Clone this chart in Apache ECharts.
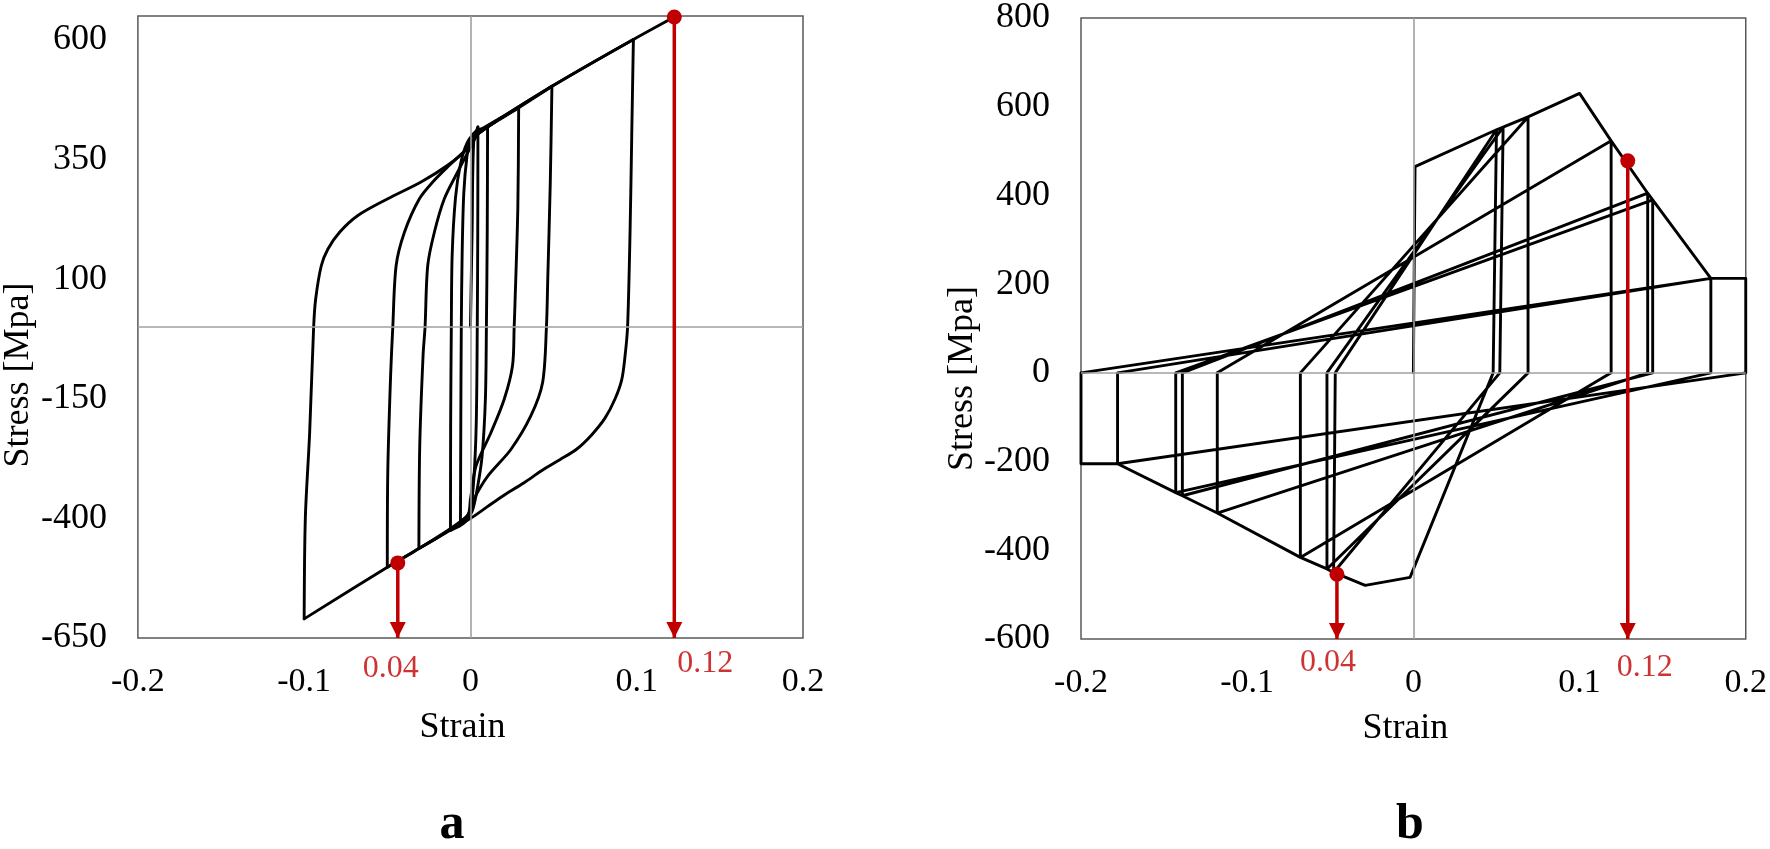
<!DOCTYPE html>
<html>
<head>
<meta charset="utf-8">
<script src="https://cdn.jsdelivr.net/npm/echarts@6/dist/echarts.min.js"></script>
<style>
html,body{margin:0;padding:0;background:#ffffff;}
#chart{width:1770px;height:849px;}
</style>
</head>
<body>
<div id="chart"></div>
<script>
// ---------------- Data: panel a (strain, stress [MPa]) ----------------
const aInitial = [[0,0],[0.001,200],[0.002,390],[0.0045,418]];
const aDown1 = [[0.0044,200],[0.0041,0],[0.0035,-200],[0.002,-320],[0,-380],[-0.003,-400],[-0.006,-408]];
const aUp1 = [[-0.0058,-200],[-0.0055,0],[-0.005,150],[-0.004,280],[-0.002,360],[0,392],[0.003,408],[0.0103,418]];
const aDown2 = [[0.0101,200],[0.0096,0],[0.009,-150],[0.007,-270],[0.004,-340],[0.001,-385],[-0.004,-410],[-0.012,-425]];
const aUp2 = [[-0.0119,-200],[-0.0115,0],[-0.011,150],[-0.009,270],[-0.006,340],[-0.002,385],[0.003,405],[0.029,458]];
const aDown3 = [[0.0285,250],[0.0268,50],[0.0263,0],[0.0253,-81],[0.0203,-151],[0.0123,-221],[0.0033,-291],[0,-360],[-0.002,-396],[-0.031,-463]];
const aUp3 = [[-0.0305,-250],[-0.0285,-60],[-0.0273,0],[-0.0257,128],[-0.0217,198],[-0.0157,268],[-0.0077,324],[0,375],[0.005,405],[0.029,458],[0.049,503]];
const aDown4 = [[0.048,300],[0.0465,100],[0.0457,0],[0.0434,-116],[0.0363,-186],[0.0243,-256],[0.0103,-312],[0.002,-360],[-0.002,-395],[-0.031,-463],[-0.050,-502]];
const aUp4 = [[-0.0497,-300],[-0.048,-100],[-0.0467,0],[-0.0447,128],[-0.0397,198],[-0.0307,268],[-0.0227,303],[-0.0127,338],[0,380],[0.005,405],[0.049,503],[0.098,601]];
const aDown5 = [[0.097,400],[0.096,200],[0.0945,0],[0.093,-60],[0.091,-110],[0.087,-150],[0.081,-190],[0.073,-225],[0.064,-255],[0.054,-277],[0.043,-300],[0.032,-326],[0.020,-352],[0.010,-376],[0,-400],[-0.031,-463],[-0.050,-502],[-0.1,-610]];
const aUp5 = [[-0.0993,-400],[-0.0967,-221],[-0.0943,0],[-0.0931,58],[-0.0897,128],[-0.0857,163],[-0.0787,198],[-0.0677,233],[-0.0497,268],[-0.0297,303],[-0.0137,338],[-0.0017,373],[0.005,405],[0.049,503],[0.098,601],[0.1226,648]];

// ---------------- Data: panel b (strain, stress [MPa]) ----------------
const bStart  = [[0,0],[0.001,465],[0.05,548],[0.048,0],[-0.002,-461],[-0.029,-479],[-0.048,-450],[-0.047,0]];
const bCycle2 = [[0.05,548],[0.054,554],[0.052,0],[-0.048,-450],[-0.052,-442],[-0.052,0]];
const bCycle3 = [[0.054,554],[0.069,577],[0.069,0],[-0.052,-442],[-0.068,-416],[-0.068,0]];
const bCycle4 = [[0.069,577],[0.1,630],[0.119,523],[0.119,0],[-0.068,-416],[-0.118,-316],[-0.118,0]];
const bCycle5 = [[0.119,523],[0.141,405],[0.141,0],[-0.118,-316],[-0.139,-277],[-0.139,0]];
const bCycle6 = [[0.141,405],[0.144,390],[0.144,0],[-0.139,-277],[-0.143,-270],[-0.143,0]];
const bCycle7 = [[0.144,390],[0.179,213],[0.179,0],[-0.143,-270],[-0.178,-205],[-0.178,0]];
const bCycle8 = [[0.179,213],[0.2,213],[0.2,0],[-0.178,-205],[-0.2,-205],[-0.2,0],[0.179,213]];

// ---------------- Annotations (red markers) ----------------
const aMarkers = [[-0.0437,-493],[0.1226,648]];
const bMarkers = [[-0.046,-454],[0.129,478]];
const markerLabels = ['0.04','0.12'];

// ---------------- Axis ticks ----------------
const strainTicks = [-0.2,-0.1,0,0.1,0.2];
const aStressTicks = [-650,-400,-150,100,350,600];
const bStressTicks = [-600,-400,-200,0,200,400,600,800];

const aBranches = [aInitial,aDown1,aUp1,aDown2,aUp2,aDown3,aUp3,aDown4,aUp4,aDown5,aUp5];
const bPath = [].concat(bStart,bCycle2,bCycle3,bCycle4,bCycle5,bCycle6,bCycle7,bCycle8);

const FONT = '"Liberation Serif", "Times New Roman", serif';
const RED = '#C00000';
const ARROW = 'path://M0,0L10,0L5,10Z';

function xAxisCfg(gi){
  return {
    gridIndex: gi, type: 'value', min: -0.2, max: 0.2, interval: 0.1,
    axisLine: {show: false}, axisTick: {show: false}, splitLine: {show: false},
    axisLabel: {show: true, color: '#000', fontSize: 34, fontFamily: FONT, margin: 27,
      showMinLabel: true, showMaxLabel: true,
      formatter: function(v){ const r = Math.round(v*10)/10; return strainTicks.indexOf(r) >= 0 ? String(r) : ''; }},
    name: 'Strain', nameLocation: 'middle', nameGap: 72,
    nameTextStyle: {color: '#000', fontSize: 36, fontFamily: FONT, padding: [0,16,0,0]}
  };
}
function yAxisCfg(gi, min, max, interval, ticks, pad){
  return {
    gridIndex: gi, type: 'value', min: min, max: max, interval: interval,
    axisLine: {show: false}, axisTick: {show: false}, splitLine: {show: false},
    axisLabel: {show: true, color: '#000', fontSize: 36, fontFamily: FONT, margin: 31,
      showMinLabel: true, showMaxLabel: true,
      formatter: function(v){ const r = Math.round(v); return ticks.indexOf(r) >= 0 ? String(r) : ''; }},
    name: 'Stress [Mpa]', nameLocation: 'middle', nameGap: 98, nameRotate: 90,
    nameTextStyle: {color: '#000', fontSize: 36, fontFamily: FONT, padding: [0,pad,0,0]}
  };
}
function zeroSeries(gi){
  return {
    type: 'line', xAxisIndex: gi, yAxisIndex: gi, data: [[0,0]], symbol: 'none',
    lineStyle: {opacity: 0}, silent: true, z: 1,
    markLine: {silent: true, symbol: ['none','none'], animation: false, label: {show: false},
      lineStyle: {color: '#a0a0a0', width: 1.6, type: 'solid'},
      data: [{xAxis: 0}, {yAxis: 0}]}
  };
}
function curveSeries(gi, data, smooth){
  return {
    type: 'line', xAxisIndex: gi, yAxisIndex: gi, data: data, symbol: 'none', smooth: smooth,
    lineStyle: {color: '#000', width: 2.9, join: 'round', cap: 'round'}, z: 3, silent: true
  };
}
function arrowSeries(gi, pt, yMin){
  return {
    type: 'line', xAxisIndex: gi, yAxisIndex: gi, clip: false, z: 5, silent: true,
    showSymbol: true, showAllSymbol: true,
    lineStyle: {color: RED, width: 3.5}, itemStyle: {color: RED},
    data: [
      {value: [pt[0], pt[1]], symbol: 'circle', symbolSize: 15},
      {value: [pt[0], yMin], symbol: ARROW, symbolSize: [16,16], symbolOffset: [0,'-50%']}
    ]
  };
}
function labelSeries(gi, pt, yMin, text, off){
  return {
    type: 'scatter', xAxisIndex: gi, yAxisIndex: gi, clip: false, z: 6, silent: true,
    symbolSize: 1, itemStyle: {color: 'rgba(0,0,0,0)'},
    data: [[pt[0], yMin]],
    label: {show: true, position: 'inside', offset: off, formatter: text,
      color: RED, fontSize: 32, fontFamily: FONT}
  };
}

// panel a: each branch drawn as its own smooth curve, joined to the previous branch end
const aSeries = [];
let prevEnd = null;
aBranches.forEach(function(br){
  const pts = prevEnd ? [prevEnd].concat(br) : br.slice();
  aSeries.push(curveSeries(0, pts, 0.3));
  prevEnd = br[br.length - 1];
});

const chart = echarts.init(document.getElementById('chart'), null, {renderer: 'canvas'});
chart.setOption({
  animation: false,
  backgroundColor: '#ffffff',
  grid: [
    {left: 135, top: 16, width: 668, height: 622, show: true, borderColor: '#595959', borderWidth: 1.5, backgroundColor: 'transparent'},
    {left: 1081, top: 16, width: 666, height: 623, show: true, borderColor: '#595959', borderWidth: 1.5, backgroundColor: 'transparent'}
  ],
  xAxis: [xAxisCfg(0), xAxisCfg(1)],
  yAxis: [
    yAxisCfg(0, -650, 650, 250, aStressTicks, 96),
    yAxisCfg(1, -600, 800, 200, bStressTicks, 100)
  ],
  series: [zeroSeries(0), zeroSeries(1)].concat(aSeries, [
    curveSeries(1, bPath, false),
    arrowSeries(0, aMarkers[0], -650), arrowSeries(0, aMarkers[1], -650),
    arrowSeries(1, bMarkers[0], -600), arrowSeries(1, bMarkers[1], -600),
    labelSeries(0, aMarkers[0], -650, markerLabels[0], [-7, 31]),
    labelSeries(0, aMarkers[1], -650, markerLabels[1], [31, 26]),
    labelSeries(1, bMarkers[0], -600, markerLabels[0], [-9, 24]),
    labelSeries(1, bMarkers[1], -600, markerLabels[1], [17, 29])
  ]),
  graphic: [
    {type: 'text', x: 452, y: 825, silent: true,
     style: {text: 'a', font: 'bold 50px "Liberation Serif"', fill: '#000', align: 'center', verticalAlign: 'middle', textAlign: 'center', textVerticalAlign: 'middle'}},
    {type: 'text', x: 1410, y: 825, silent: true,
     style: {text: 'b', font: 'bold 50px "Liberation Serif"', fill: '#000', align: 'center', verticalAlign: 'middle', textAlign: 'center', textVerticalAlign: 'middle'}}
  ]
});
</script>
</body>
</html>
